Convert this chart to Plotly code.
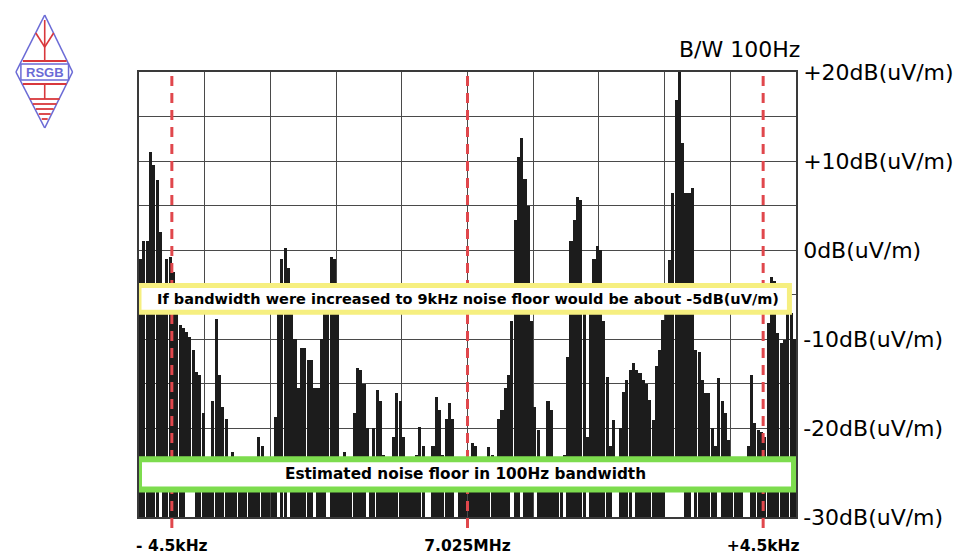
import plotly.graph_objects as go

# ---------------- data ----------------
# frequency bins (kHz offset from 7.025 MHz), 50 Hz wide
freq_khz = [round(-4.975 + 0.05 * i, 3) for i in range(200)]

# maximum level seen in each bin, dB(uV/m)
peak_db = [
    -1, 1, 1, 11, 9.5, 7.9, 2, -5, -1, -0.8,
    -2.5, -6, -8.4, -8.8, -9.2, -9.8, -11.2, -13.7, -14, -18.3,
    -24.5, -24.5, -17, -7.8, -14, -17.6, -19, -24, -22.7, -24,
    -24.5, -24.5, -24.5, -24.5, -24.5, -24.5, -21, -22, -24.5, -24.5,
    -24.5, -18.8, -5, -1, 0.2, -2, -5.5, -10, -15.5, -11,
    -11, -12.4, -12.4, -15.5, -15.5, -10, -6, -5, -0.8, -1,
    -5, -24.5, -22.7, -24.5, -24.5, -18.3, -13.3, -13.5, -15, -20,
    -24, -20, -15.7, -17, -23, -24.5, -24.5, -21, -16.1, -17,
    -21, -24.5, -24.5, -24.5, -23, -19.9, -22, -24.5, -24.5, -22,
    -16.5, -18, -23, -19, -17.2, -19, -24, -24.5, -24.5, -24.5,
    -24.5, -21.7, -22, -24.5, -24.5, -24.5, -22.1, -23, -24, -19,
    -18, -15.5, -14, -8, 3.4, 10.4, 12.6, 8, 5, -8,
    -17.6, -20.2, -24, -24, -17, -18, -24.5, -24.5, -24.5, -23,
    -12, 1, 3.4, 6, 5.6, -5, -21, -4, -1, 0.5,
    0, -8, -14.3, -22, -19.1, -24, -20, -16, -14.6, -13.5,
    -12.7, -13.5, -13.8, -14.6, -15, -16.9, -19.1, -13, -11.2, -7.9,
    -4, -1.1, 6.4, 16.9, 20.5, 12, 6.4, 6.4, 7, -11.2,
    -11.5, -14.6, -16.1, -16.1, -20, -22, -14.4, -17, -18.3, -21.3,
    -24.5, -24.5, -24.5, -24.5, -24.5, -22, -14, -19.4, -20.2, -20.5,
    -21, -8.2, -3, -3.5, -9.3, -10.5, -10.1, -7.2, -7.1, -10,
]

# minimum level seen in each bin, dB(uV/m)
floor_db = [
    -30, -30, -30, -30, -30, -30, -26.5, -30, -30, -30,
    -30, -30, -30, -30, -26.5, -26.5, -26.5, -30, -30, -30,
    -30, -30, -30, -30, -30, -30, -30, -30, -30, -30,
    -30, -30, -30, -30, -30, -30, -30, -30, -30, -30,
    -30, -30, -26.5, -30, -30, -26.5, -30, -30, -30, -30,
    -30, -30, -30, -26.5, -30, -30, -30, -26.5, -30, -30,
    -30, -30, -30, -30, -30, -30, -30, -30, -30, -26.5,
    -30, -30, -30, -30, -30, -30, -30, -30, -30, -30,
    -30, -30, -30, -30, -30, -30, -30, -26.5, -26.5, -30,
    -30, -30, -30, -30, -30, -30, -26.5, -30, -30, -30,
    -30, -30, -30, -30, -30, -30, -30, -30, -30, -30,
    -30, -30, -30, -26.5, -30, -30, -26.5, -30, -30, -30,
    -26.5, -30, -30, -30, -30, -30, -30, -30, -30, -26.5,
    -30, -30, -30, -30, -30, -30, -26.5, -30, -30, -30,
    -30, -30, -30, -30, -26.5, -26.5, -30, -30, -30, -30,
    -26.5, -30, -30, -30, -30, -30, -30, -30, -30, -30,
    -26.5, -26.5, -26.5, -26.5, -26.5, -26.5, -30, -30, -26.5, -30,
    -30, -30, -30, -30, -30, -30, -26.5, -30, -30, -30,
    -30, -30, -30, -30, -26.5, -26.5, -30, -30, -30, -30,
    -30, -30, -30, -30, -30, -30, -30, -30, -30, -30,
]

marker_khz = [-4.5, 0, 4.5]
marker_labels = ["- 4.5kHz", "7.025MHz", "+4.5kHz"]

level_ticks = [20, 10, 0, -10, -20, -30]
level_labels = ["+20dB(uV/m)", "+10dB(uV/m)", "0dB(uV/m)",
                "-10dB(uV/m)", "-20dB(uV/m)", "-30dB(uV/m)"]

wide_floor_db = -5      # 9 kHz estimate (yellow box)
narrow_floor_db = -25   # 100 Hz estimate (green box)

# ---------------- figure ----------------
FONT = "DejaVu Sans"
FIG_W, FIG_H = 966, 580
SX = 1.015                       # page px per photo px, horizontally
L, T, W, H = 137, 72, 662, 445   # plot area in photo pixels


def pp(x, y):
    """photo pixel -> paper coords (logo decoration only)"""
    return (x - L) / W, (T + H - y) / H


fig = go.Figure()
fig.add_trace(go.Bar(
    x=freq_khz,
    y=[p - f for p, f in zip(peak_db, floor_db)],
    base=floor_db,
    marker=dict(color="#1c1c1c", line=dict(width=0)),
    width=0.047,
    hoverinfo="skip",
))

shapes = []
for f in marker_khz:
    shapes.append(dict(type="line", xref="x", yref="paper", x0=f, x1=f,
                       y0=-11 / H, y1=1, layer="above",
                       line=dict(color="#e0474c", width=3, dash="10px,7px")))
# annotation boxes
shapes.append(dict(type="rect", xref="x", yref="y", x0=-5.0, x1=4.9,
                   y0=wide_floor_db - 2.0, y1=wide_floor_db + 1.0,
                   line=dict(color="#f6ef80", width=5), fillcolor="white", layer="above"))
shapes.append(dict(type="rect", xref="x", yref="y", x0=-5.0, x1=4.97,
                   y0=narrow_floor_db - 1.9, y1=narrow_floor_db + 1.5,
                   line=dict(color="#7ddc4e", width=6), fillcolor="white", layer="above"))

# ---- RSGB logo (decoration) ----
blue = "#6b6bd6"
red = "#d9383c"


def seg(x0, y0, x1, y1, color, w=1.6):
    a = pp(x0, y0)
    b = pp(x1, y1)
    shapes.append(dict(type="line", xref="paper", yref="paper",
                       x0=a[0], y0=a[1], x1=b[0], y1=b[1],
                       line=dict(color=color, width=w)))


seg(42, 15, 70, 72, blue)
seg(70, 72, 42, 128, blue)
seg(42, 128, 13, 72, blue)
seg(13, 72, 42, 15, blue)
seg(42, 20, 42, 62, red)
seg(33, 33, 42, 47, red)
seg(51, 33, 42, 47, red)
seg(20, 61, 64, 61, red, 2)
a, b = pp(18, 64), pp(66, 80)
shapes.append(dict(type="rect", xref="paper", yref="paper", x0=a[0], y0=a[1],
                   x1=b[0], y1=b[1], line=dict(color=blue, width=1.5),
                   fillcolor="white"))
seg(20, 84, 64, 84, red, 2)
seg(42, 84, 42, 99, red)
for yy, half in [(99, 15), (104, 12), (109, 9), (114, 6), (119, 3)]:
    seg(42 - half, yy, 42 + half, yy, red, 1.8)

annotations = [
    dict(x=0.0, y=wide_floor_db - 0.45, xref="x", yref="y", showarrow=False,
         xanchor="center", yanchor="middle",
         text="<b>If bandwidth were increased to 9kHz noise floor would be about -5dB(uV/m)</b>",
         font=dict(family=FONT, size=14.5, color="black")),
    dict(x=-0.03, y=narrow_floor_db - 0.2, xref="x", yref="y", showarrow=False,
         xanchor="center", yanchor="middle",
         text="<b>Estimated noise floor in 100Hz bandwidth</b>",
         font=dict(family=FONT, size=15.3, color="black")),
    dict(x=pp(742, 50)[0], y=pp(742, 50)[1], xref="paper", yref="paper",
         showarrow=False, xanchor="center", yanchor="middle", text="B/W 100Hz",
         font=dict(family=FONT, size=22, color="black")),
    dict(x=pp(42, 72)[0], y=pp(42, 72)[1], xref="paper", yref="paper",
         showarrow=False, xanchor="center", yanchor="middle", text="<b>RSGB</b>",
         font=dict(family="Liberation Sans", size=13, color=blue)),
]

ml, pw = L * SX, W * SX
fig.update_layout(
    width=FIG_W, height=FIG_H,
    margin=dict(l=ml, r=FIG_W - ml - pw, t=T, b=FIG_H - T - H, pad=0),
    paper_bgcolor="white", plot_bgcolor="white",
    showlegend=False, bargap=0,
    shapes=shapes, annotations=annotations,
    font=dict(family=FONT, color="black"),
)
fig.update_xaxes(
    range=[-5, 5], tickvals=marker_khz,
    ticktext=["<b>%s</b>" % t for t in marker_labels],
    tickfont=dict(family=FONT, size=15.5, color="black"),
    ticks="", ticklabelstandoff=14,
    showgrid=False, zeroline=False,
    showline=True, mirror=True, linecolor="#3a3a3a", linewidth=1.5,
    minor=dict(tick0=0, dtick=1, showgrid=True, gridcolor="#4a4a4a", gridwidth=1.3),
)
fig.update_yaxes(
    range=[-30, 20], tickvals=level_ticks, ticktext=level_labels, side="right",
    tickfont=dict(family=FONT, size=22, color="black"),
    ticks="", ticklabelstandoff=1,
    showgrid=True, gridcolor="#4a4a4a", gridwidth=1.3, zeroline=False,
    showline=True, mirror=True, linecolor="#3a3a3a", linewidth=1.5,
    minor=dict(dtick=5, showgrid=True, gridcolor="#4a4a4a", gridwidth=1.3),
)

fig.write_html(
    "out.html",
    config={"displayModeBar": False},
    post_script="document.body.style.margin='0';document.body.style.overflow='hidden';",
)
